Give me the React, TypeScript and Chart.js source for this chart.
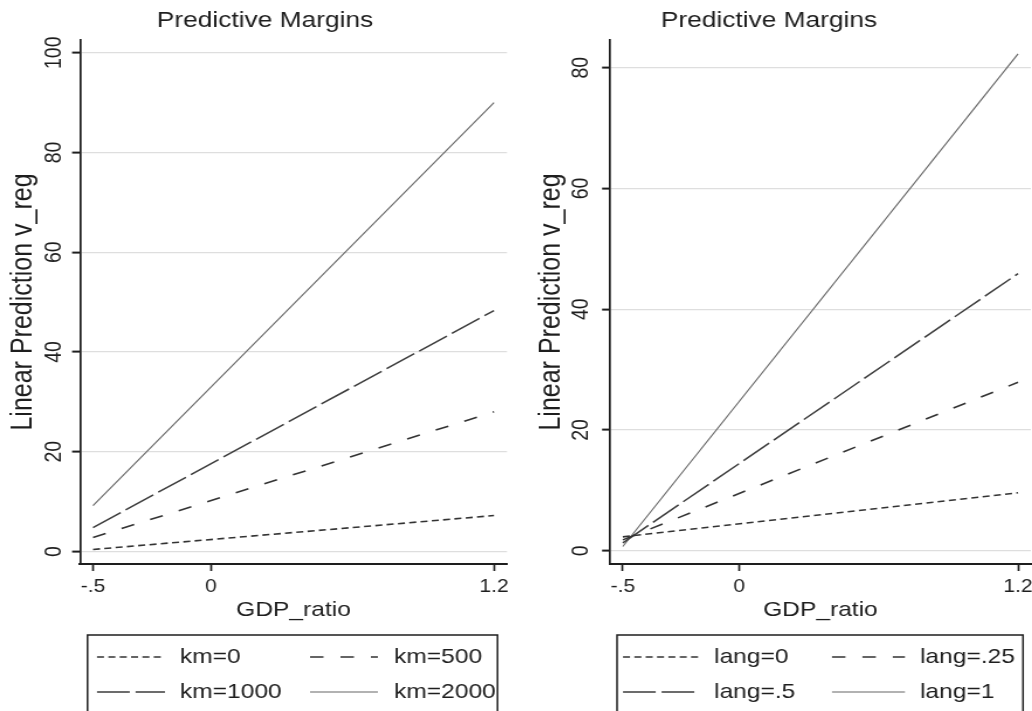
import React, { useEffect, useRef } from 'react';
import { Chart, registerables } from 'chart.js';

Chart.register(...registerables);

// ---------- data ----------
const xPoints = [-0.5, 1.2];
const xTickValues = [-0.5, 0, 1.2];
const xTickLabels = ['-.5', '0', '1.2'];

const kmLabels = ['km=0', 'km=500', 'km=1000', 'km=2000'];
const km0 = [0.4, 7.2];
const km500 = [2.8, 28.0];
const km1000 = [4.8, 48.3];
const km2000 = [9.2, 90.0];
const leftYTicks = [0, 20, 40, 60, 80, 100];

const langLabels = ['lang=0', 'lang=.25', 'lang=.5', 'lang=1'];
const lang0 = [2.3, 9.6];
const lang025 = [1.8, 27.9];
const lang05 = [1.3, 45.9];
const lang1 = [0.7, 82.3];
const rightYTicks = [0, 20, 40, 60, 80];

const titleText = 'Predictive Margins';
const xTitleText = 'GDP_ratio';
const yTitleText = 'Linear Prediction v_reg';

// ---------- styles ----------
const FONT = "'Liberation Sans', Arial, sans-serif";
const INK = '#1e1e1e';

const lineStyles = [
  { borderDash: [6, 3.7], borderWidth: 1.6, borderColor: '#333' },
  { borderDash: [11.5, 14.5], borderWidth: 1.6, borderColor: '#333' },
  { borderDash: [28, 5], borderWidth: 1.5, borderColor: '#3c3c3c' },
  { borderDash: [], borderWidth: 1.1, borderColor: '#666' },
];

// y tick labels (rotated, Stata style) + boxed two-column legend
const stataDecorPlugin = {
  id: 'stataDecor',
  afterDraw(chart: any, _args: any, opts: any) {
    const { ctx } = chart;
    const ys = chart.scales.y;
    ctx.save();
    ctx.fillStyle = INK;
    ctx.font = `19.5px ${FONT}`;
    ctx.textAlign = 'center';
    ctx.textBaseline = 'middle';
    ys.ticks.forEach((t: any) => {
      const py = ys.getPixelForValue(t.value);
      ctx.save();
      ctx.translate(opts.yLabelX, py);
      ctx.rotate(-Math.PI / 2);
      ctx.fillText(String(t.value), 0, 0);
      ctx.restore();
    });
    ctx.restore();

    const { box, sampleX, textX, rowY } = opts.legend;
    ctx.save();
    ctx.strokeStyle = INK;
    ctx.lineWidth = 1.5;
    ctx.setLineDash([]);
    ctx.strokeRect(box.left, box.top, box.right - box.left, box.bottom - box.top);
    chart.data.datasets.forEach((ds: any, i: number) => {
      const col = i % 2;
      const row = Math.floor(i / 2);
      const y = rowY[row];
      ctx.save();
      ctx.strokeStyle = ds.borderColor;
      ctx.lineWidth = ds.borderWidth;
      ctx.setLineDash(ds.borderDash || []);
      ctx.beginPath();
      ctx.moveTo(sampleX[col][0], y);
      ctx.lineTo(sampleX[col][1], y);
      ctx.stroke();
      ctx.restore();
      ctx.fillStyle = INK;
      ctx.font = `21px ${FONT}`;
      ctx.textBaseline = 'middle';
      ctx.textAlign = 'left';
      ctx.fillText(ds.label, textX[col], y);
    });
    ctx.restore();
  },
};

type Panel = {
  labels: string[];
  series: number[][];
  yMin: number;
  yMax: number;
  yTicks: number[];
  padLeft: number;
  yAxisWidth: number;
  yTitlePadTop: number;
  padRight: number;
  decor: any;
};

function buildConfig(p: Panel): any {
  return {
    type: 'line',
    data: {
      datasets: p.labels.map((label, i) => ({
        label,
        data: xPoints.map((x, j) => ({ x, y: p.series[i][j] })),
        ...lineStyles[i],
        pointRadius: 0,
        fill: false,
        tension: 0,
      })),
    },
    options: {
      animation: false,
      responsive: false,
      events: [],
      layout: { padding: { left: p.padLeft, right: p.padRight, top: 0, bottom: 85 } },
      plugins: {
        legend: { display: false },
        tooltip: { enabled: false },
        title: {
          display: true,
          text: titleText,
          color: INK,
          font: { family: FONT, size: 22.5, weight: 'normal', lineHeight: 1.2 },
          padding: { top: 7.3, bottom: 5.7 },
        },
        stataDecor: p.decor,
      },
      scales: {
        x: {
          type: 'linear',
          min: -0.555,
          max: 1.255,
          afterBuildTicks: (s: any) => {
            s.ticks = xTickValues.map((v) => ({ value: v }));
          },
          afterFit: (s: any) => {
            s.height = 62;
            s.paddingLeft = 0;
            s.paddingRight = 0;
          },
          ticks: {
            callback: (v: number) => {
              const k = xTickValues.indexOf(v);
              return k >= 0 ? xTickLabels[k] : '';
            },
            font: { family: FONT, size: 18 },
            color: INK,
            padding: 5.6,
            minRotation: 0,
            maxRotation: 0,
            autoSkip: false,
          },
          grid: { drawOnChartArea: false, drawTicks: true, tickLength: 7, tickColor: INK, tickWidth: 1.7 },
          border: { display: true, color: INK, width: 2 },
          title: {
            display: true,
            text: xTitleText,
            color: INK,
            font: { family: FONT, size: 21 },
            padding: { top: 0, bottom: 2.9 },
          },
        },
        y: {
          type: 'linear',
          min: p.yMin,
          max: p.yMax,
          afterBuildTicks: (s: any) => {
            s.ticks = p.yTicks.map((v) => ({ value: v }));
          },
          afterFit: (s: any) => {
            s.width = p.yAxisWidth;
            s.paddingTop = 0;
            s.paddingBottom = 0;
          },
          ticks: { display: false, autoSkip: false },
          grid: { color: '#dedede', lineWidth: 1.2, drawTicks: true, tickLength: 6.8, tickColor: INK, tickWidth: 2 },
          border: { display: true, color: INK, width: 1.7 },
          title: {
            display: true,
            text: yTitleText,
            color: INK,
            font: { family: FONT, size: 25 },
            padding: { top: p.yTitlePadTop, bottom: 0 },
          },
        },
      },
    },
    plugins: [stataDecorPlugin],
  };
}

const leftPanel: Panel = {
  labels: kmLabels,
  series: [km0, km500, km1000, km2000],
  yMin: -2.51,
  yMax: 102.55,
  yTicks: leftYTicks,
  padLeft: 19.7,
  yAxisWidth: 48.7,
  yTitlePadTop: -14.8,
  padRight: 19.7,
  decor: {
    yLabelX: 46.5,
    legend: {
      box: { left: 74.8, right: 425.2, top: 635, bottom: 716 },
      sampleX: [[82.9, 141], [265, 323]],
      textX: [153.8, 336.8],
      rowY: [657, 692],
    },
  },
};

const rightPanel: Panel = {
  labels: langLabels,
  series: [lang0, lang025, lang05, lang1],
  yMin: -2.2,
  yMax: 84.6,
  yTicks: rightYTicks,
  padLeft: 1,
  yAxisWidth: 88,
  yTitlePadTop: 23.1,
  padRight: 1,
  decor: {
    yLabelX: 64.5,
    legend: {
      box: { left: 95, right: 442.3, top: 635, bottom: 716 },
      sampleX: [[100.1, 164.3], [278.9, 341.3]],
      textX: [178, 354.2],
      rowY: [657, 692],
    },
  },
};

function PanelCanvas({ panel, left, displayWidth, internalWidth }: { panel: Panel; left: number; displayWidth: number; internalWidth: number }) {
  const ref = useRef<HTMLCanvasElement>(null);
  useEffect(() => {
    if (!ref.current) return;
    const chart = new Chart(ref.current, buildConfig(panel));
    return () => chart.destroy();
  }, [panel]);
  return (
    <canvas
      ref={ref}
      width={internalWidth}
      height={711}
      style={{ position: 'absolute', left, top: 0, width: `${displayWidth}px`, height: '711px' }}
    />
  );
}

export default function App() {
  return (
    <div style={{ position: 'absolute', left: 0, top: 0, width: 1032, height: 711, overflow: 'hidden', background: '#fff' }}>
      <PanelCanvas panel={leftPanel} left={0} displayWidth={530} internalWidth={453} />
      <PanelCanvas panel={rightPanel} left={506} displayWidth={526} internalWidth={450} />
    </div>
  );
}
